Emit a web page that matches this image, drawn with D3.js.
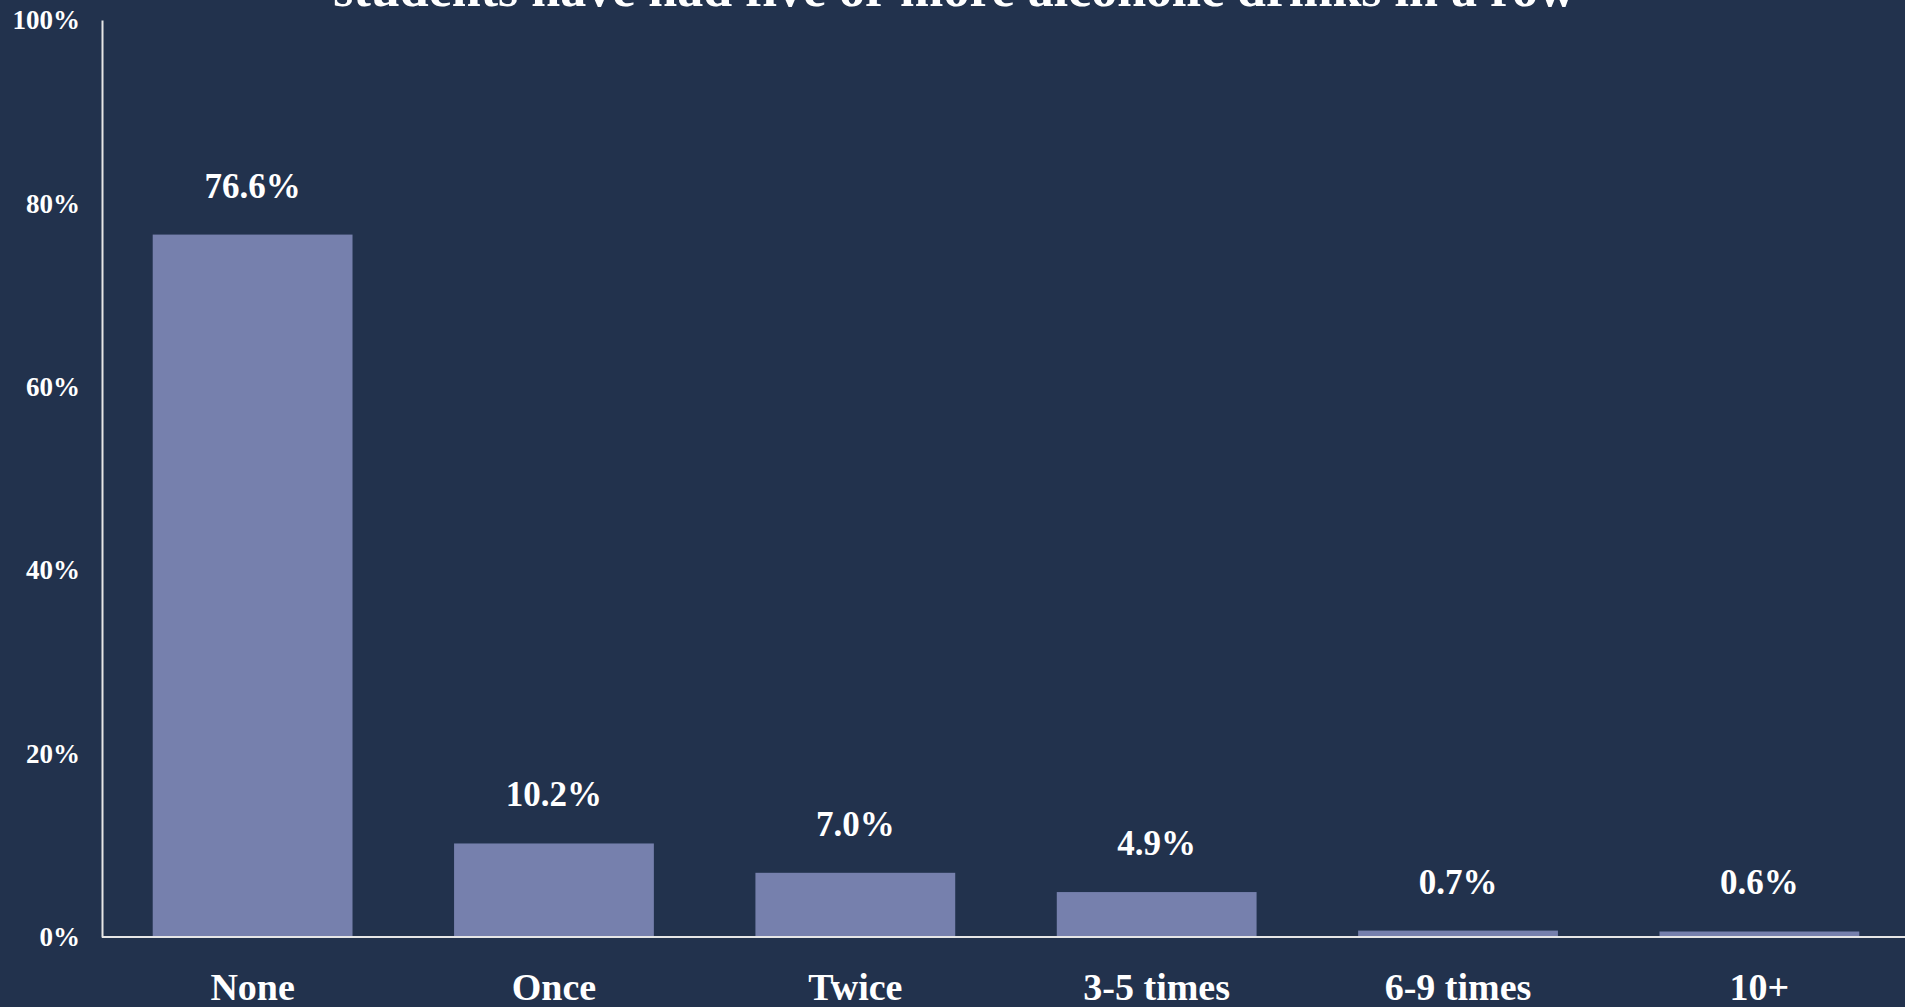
<!DOCTYPE html>
<html>
<head>
<meta charset="utf-8">
<script src="https://cdn.jsdelivr.net/npm/d3@7/dist/d3.min.js"></script>
<style>
  html, body { margin: 0; padding: 0; background: #22324d; overflow: hidden; }
  svg { display: block; }
  text { font-family: "Liberation Serif", "DejaVu Serif", serif; fill: #ffffff; }
</style>
</head>
<body>
<svg id="chart" width="1905" height="1007"></svg>
<script>
// ---- data ----
const categories = ["None", "Once", "Twice", "3-5 times", "6-9 times", "10+"];
const values = [76.6, 10.2, 7.0, 4.9, 0.7, 0.6];
const yTicks = [0, 20, 40, 60, 80, 100];
const titleText = "students have had five or more alcoholic drinks in a row";

// ---- layout ----
const W = 1905, H = 1007;
const margin = { top: 20, right: 0, bottom: 70, left: 102 };
const svg = d3.select("#chart");
svg.append("rect").attr("width", W).attr("height", H).attr("fill", "#22324d");

const x = d3.scaleBand()
  .domain(categories)
  .range([margin.left + 2.5, W - margin.right + 2.5])
  .paddingInner(0.337)
  .paddingOuter(0.16);

const y = d3.scaleLinear()
  .domain([0, 100])
  .range([H - margin.bottom, margin.top]);

// title (second line visible at top edge)
svg.append("text")
  .attr("x", W / 2 + 2)
  .attr("y", 6)
  .attr("text-anchor", "middle")
  .attr("font-weight", "bold")
  .attr("font-size", 52)
  .text(titleText);

// bars
svg.append("g").selectAll("rect")
  .data(values)
  .join("rect")
  .attr("x", (d, i) => x(categories[i]))
  .attr("y", d => y(d))
  .attr("width", x.bandwidth())
  .attr("height", d => y(0) - y(d))
  .attr("fill", "#7680ad");

// value labels
svg.append("g").selectAll("text")
  .data(values)
  .join("text")
  .attr("x", (d, i) => x(categories[i]) + x.bandwidth() / 2)
  .attr("y", d => y(d) - 37)
  .attr("text-anchor", "middle")
  .attr("font-weight", "bold")
  .attr("font-size", 35)
  .text(d => d.toFixed(1) + "%");

// y axis
const yAxis = svg.append("g")
  .attr("transform", `translate(${margin.left},0)`)
  .call(d3.axisLeft(y).tickValues(yTicks).tickFormat(d => d + "%").tickSize(0).tickPadding(22));
yAxis.select(".domain").attr("stroke", "#e6e6e6").attr("stroke-width", 2);
yAxis.selectAll("text")
  .attr("font-family", "Liberation Serif, serif")
  .attr("font-size", 27)
  .attr("font-weight", "bold")
  .attr("fill", "#ffffff");

// x axis
const xAxis = svg.append("g")
  .attr("transform", `translate(0,${y(0)})`)
  .call(d3.axisBottom(x).tickSize(0).tickPadding(36));
xAxis.select(".domain").attr("stroke", "#e6e6e6").attr("stroke-width", 2)
  .attr("d", `M${margin.left},0H${W}`);
xAxis.selectAll("text")
  .attr("font-family", "Liberation Serif, serif")
  .attr("font-size", 38)
  .attr("font-weight", "bold")
  .attr("fill", "#ffffff");
</script>
</body>
</html>
